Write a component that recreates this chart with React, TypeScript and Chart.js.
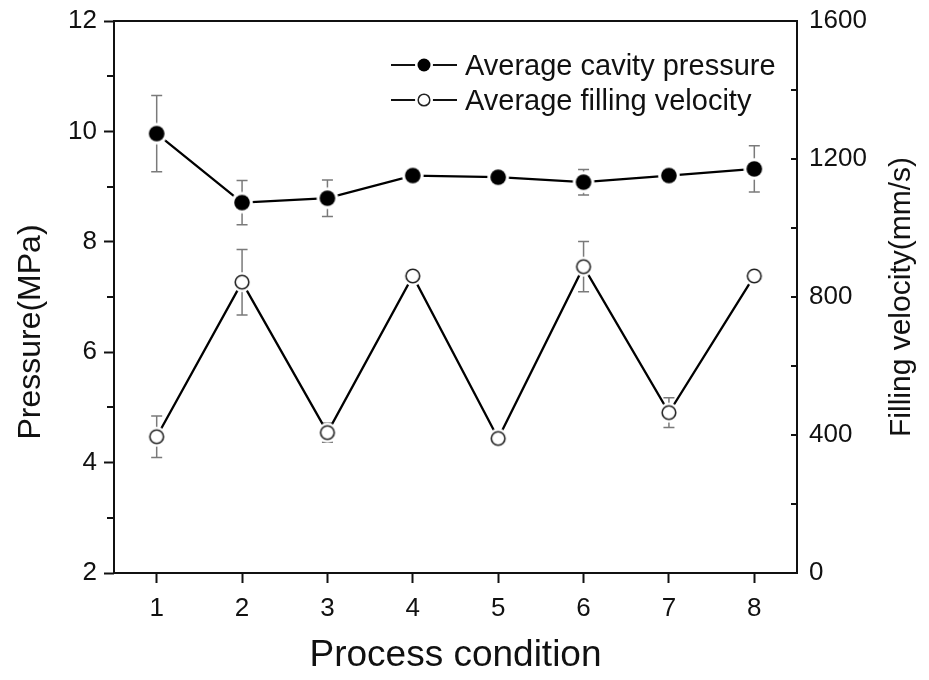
import React, { useEffect, useRef } from "react";
import { Chart, registerables } from "chart.js";

Chart.register(...registerables);

// Process conditions on the x axis
const conditions = [1, 2, 3, 4, 5, 6, 7, 8];

// Average cavity pressure (MPa) and its standard deviation
const pressure = [9.96, 8.71, 8.79, 9.2, 9.17, 9.08, 9.2, 9.32];
const pressureErr = [0.69, 0.4, 0.33, 0.05, 0.04, 0.23, 0.05, 0.42];

// Average filling velocity (mm/s) and its standard deviation
const velocity = [395, 843, 407, 861, 390, 888, 465, 861];
const velocityErr = [60, 95, 28, 12, 10, 73, 43, 12];

// Labelled ticks on each axis
const pressureTicks = [2, 4, 6, 8, 10, 12];
const velocityTicks = [0, 400, 800, 1200, 1600];

const seriesNames = ["Average cavity pressure", "Average filling velocity"];
const xTitle = "Process condition";
const yTitle = "Pressure(MPa)";
const y2Title = "Filling velocity(mm/s)";

const FONT = '"Liberation Sans", Arial, Helvetica, sans-serif';
const INK = "#111";

function makeMarker(filled: boolean, r: number, ring: number): HTMLCanvasElement {
  const c = document.createElement("canvas");
  const size = Math.ceil(ring * 2 + 2);
  c.width = size;
  c.height = size;
  const g = c.getContext("2d")!;
  const m = size / 2;
  g.fillStyle = "#fff";
  g.beginPath();
  g.arc(m, m, ring, 0, Math.PI * 2);
  g.fill();
  g.beginPath();
  g.arc(m, m, r, 0, Math.PI * 2);
  if (filled) {
    g.fillStyle = "#000";
    g.fill();
  } else {
    g.lineWidth = 1.6;
    g.strokeStyle = "#222";
    g.stroke();
  }
  return c;
}

// Error bars drawn with gaps around each marker, plus frame, minor ticks, titles and legend
const decorations = {
  id: "decorations",
  beforeDatasetsDraw(chart: any) {
    const { ctx, chartArea: a } = chart;
    ctx.save();
    ctx.strokeStyle = INK;
    ctx.lineWidth = 2;
    ctx.strokeRect(a.left, a.top, a.right - a.left, a.bottom - a.top);

    // minor ticks on the pressure axis (outward)
    const y = chart.scales.y;
    for (let v = 3; v <= 11; v += 2) {
      const py = Math.round(y.getPixelForValue(v));
      ctx.beginPath();
      ctx.moveTo(a.left, py);
      ctx.lineTo(a.left - 7, py);
      ctx.stroke();
    }
    // ticks on the velocity axis (inward)
    const y2 = chart.scales.y2;
    for (let v = 0; v <= 1600; v += 200) {
      const py = Math.round(y2.getPixelForValue(v));
      ctx.beginPath();
      ctx.moveTo(a.right, py);
      ctx.lineTo(a.right - 6, py);
      ctx.stroke();
    }

    // error bars
    const x = chart.scales.x;
    const series = [
      { vals: pressure, errs: pressureErr, scale: y, r: 8 },
      { vals: velocity, errs: velocityErr, scale: y2, r: 7 },
    ];
    ctx.strokeStyle = "#7a7a7a";
    ctx.lineWidth = 1.5;
    series.forEach((s) => {
      s.vals.forEach((v, i) => {
        const px = x.getPixelForValue(conditions[i]);
        const pc = s.scale.getPixelForValue(v);
        const pt = s.scale.getPixelForValue(v + s.errs[i]);
        const pb = s.scale.getPixelForValue(v - s.errs[i]);
        if (pc - pt > s.r) {
          ctx.beginPath();
          ctx.moveTo(px, pt);
          ctx.lineTo(px, pc - s.r);
          ctx.moveTo(px - 5.5, pt);
          ctx.lineTo(px + 5.5, pt);
          ctx.stroke();
        }
        if (pb - pc > s.r) {
          ctx.beginPath();
          ctx.moveTo(px, pc + s.r);
          ctx.lineTo(px, pb);
          ctx.moveTo(px - 5.5, pb);
          ctx.lineTo(px + 5.5, pb);
          ctx.stroke();
        }
      });
    });
    ctx.restore();
  },
  afterDraw(chart: any) {
    const { ctx, chartArea: a } = chart;
    ctx.save();
    ctx.fillStyle = INK;

    // axis titles
    ctx.textAlign = "center";
    ctx.textBaseline = "middle";
    ctx.font = `37px ${FONT}`;
    ctx.fillText(xTitle, (a.left + a.right) / 2, 656);

    ctx.font = `32px ${FONT}`;
    ctx.save();
    ctx.translate(31, 332);
    ctx.rotate(-Math.PI / 2);
    ctx.fillText(yTitle, 0, 0);
    ctx.restore();

    ctx.font = `30px ${FONT}`;
    ctx.save();
    ctx.translate(902, (a.top + a.bottom) / 2);
    ctx.rotate(-Math.PI / 2);
    ctx.fillText(y2Title, 0, 0);
    ctx.restore();

    // legend
    const rows = [
      { y: 65, filled: true },
      { y: 100, filled: false },
    ];
    ctx.font = `29px ${FONT}`;
    ctx.textAlign = "left";
    ctx.textBaseline = "alphabetic";
    rows.forEach((row, i) => {
      ctx.strokeStyle = INK;
      ctx.lineWidth = 2;
      ctx.beginPath();
      ctx.moveTo(391, row.y);
      ctx.lineTo(457, row.y);
      ctx.stroke();
      ctx.fillStyle = "#fff";
      ctx.beginPath();
      ctx.arc(424, row.y, 9, 0, Math.PI * 2);
      ctx.fill();
      ctx.beginPath();
      ctx.arc(424, row.y, row.filled ? 6.5 : 5.8, 0, Math.PI * 2);
      if (row.filled) {
        ctx.fillStyle = "#000";
        ctx.fill();
      } else {
        ctx.strokeStyle = "#222";
        ctx.lineWidth = 1.5;
        ctx.stroke();
      }
      ctx.fillStyle = INK;
      ctx.fillText(seriesNames[i], 465, row.y + 10);
    });
    ctx.restore();
  },
};

const plain = (v: any) => String(v);

export default function App() {
  const canvasRef = useRef<HTMLCanvasElement | null>(null);

  useEffect(() => {
    const canvas = canvasRef.current;
    if (!canvas) return;
    const filledMarker = makeMarker(true, 7.8, 10.8);
    const openMarker = makeMarker(false, 6.8, 10);

    const tickFont = { family: FONT, size: 26 };

    const chart = new Chart(canvas, {
      type: "line",
      data: {
        datasets: [
          {
            label: seriesNames[0],
            data: conditions.map((c, i) => ({ x: c, y: pressure[i] })),
            yAxisID: "y",
            borderColor: "#000",
            borderWidth: 2.3,
            pointStyle: filledMarker as any,
            pointRadius: 8,
            tension: 0,
          },
          {
            label: seriesNames[1],
            data: conditions.map((c, i) => ({ x: c, y: velocity[i] })),
            yAxisID: "y2",
            borderColor: "#000",
            borderWidth: 2.3,
            pointStyle: openMarker as any,
            pointRadius: 8,
            tension: 0,
          },
        ],
      },
      options: {
        animation: false,
        responsive: true,
        maintainAspectRatio: false,
        events: [],
        layout: { padding: { top: 21, left: 0, right: 0, bottom: 0 } },
        plugins: { legend: { display: false }, tooltip: { enabled: false } },
        scales: {
          x: {
            type: "linear",
            min: 0.5,
            max: 8.5,
            afterBuildTicks: (s: any) => {
              s.ticks = conditions.map((v) => ({ value: v }));
            },
            afterFit: (s: any) => {
              s.height = 107;
              s.paddingLeft = 0;
              s.paddingRight = 0;
            },
            ticks: { font: tickFont, color: INK, padding: 10, maxRotation: 0, callback: plain },
            grid: { drawOnChartArea: false, drawTicks: true, tickLength: 10, tickWidth: 2, tickColor: INK },
            border: { display: false },
          },
          y: {
            type: "linear",
            position: "left",
            min: 2,
            max: 12,
            afterBuildTicks: (s: any) => {
              s.ticks = pressureTicks.map((v) => ({ value: v }));
            },
            afterFit: (s: any) => {
              s.width = 114;
              s.paddingTop = 0;
              s.paddingBottom = 0;
            },
            ticks: { font: tickFont, color: INK, padding: 7, callback: plain },
            grid: { drawOnChartArea: false, drawTicks: true, tickLength: 10, tickWidth: 2, tickColor: INK },
            border: { display: false },
          },
          y2: {
            type: "linear",
            position: "right",
            min: 0,
            max: 1600,
            afterBuildTicks: (s: any) => {
              s.ticks = velocityTicks.map((v) => ({ value: v }));
            },
            afterFit: (s: any) => {
              s.width = 132;
              s.paddingTop = 0;
              s.paddingBottom = 0;
            },
            ticks: { font: tickFont, color: INK, padding: 12, callback: plain },
            grid: { drawOnChartArea: false, drawTicks: false },
            border: { display: false },
          },
        },
      },
      plugins: [decorations],
    });

    return () => chart.destroy();
  }, []);

  return (
    <div style={{ position: "fixed", left: 0, top: 0, width: 929, height: 680, background: "#fff" }}>
      <canvas ref={canvasRef} />
    </div>
  );
}
